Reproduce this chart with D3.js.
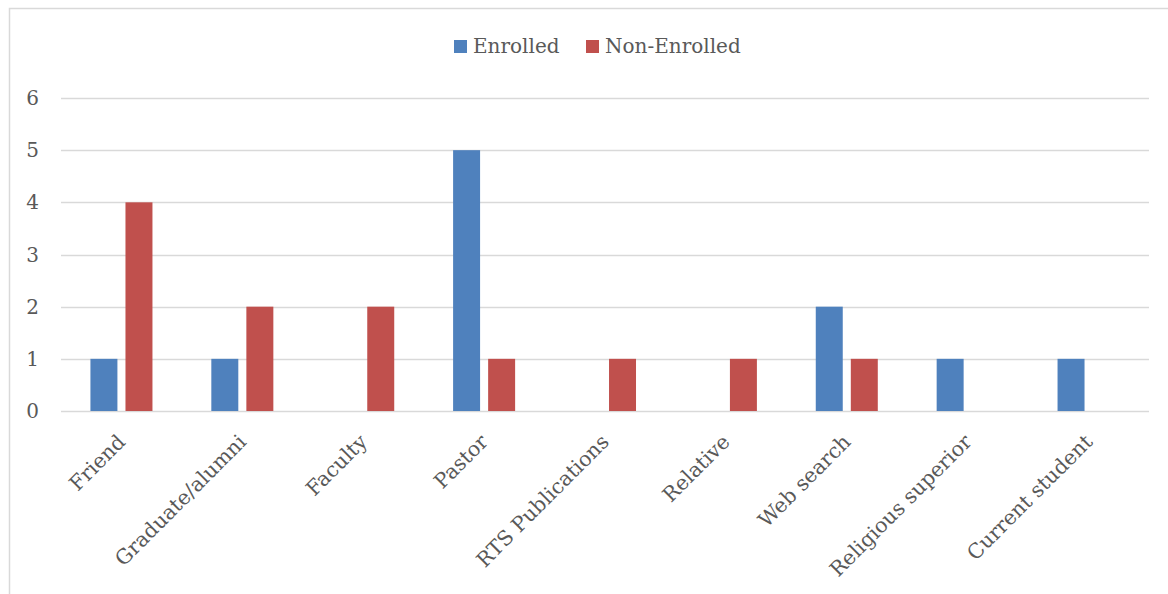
<!DOCTYPE html>
<html>
<head>
<meta charset="utf-8">
<script src="https://cdn.jsdelivr.net/npm/d3@7"></script>
<style>
  body { margin: 0; background: #fff; }
  text { font-family: "DejaVu Serif", serif; fill: #595959; }
</style>
</head>
<body>
<div id="chart"></div>
<script>
var categories = ["Friend", "Graduate/alumni", "Faculty", "Pastor", "RTS Publications", "Relative", "Web search", "Religious superior", "Current student"];
var seriesNames = ["Enrolled", "Non-Enrolled"];
var enrolled = [1, 1, 0, 5, 0, 0, 2, 1, 1];
var nonEnrolled = [4, 2, 2, 1, 1, 1, 1, 0, 0];
var yTicks = [0, 1, 2, 3, 4, 5, 6];
var colors = ["#4F81BD", "#C0504D"];

var W = 1168, H = 594;
var margin = {top: 98, right: 19, bottom: 183, left: 61},
    width = W - margin.left - margin.right,
    height = H - margin.top - margin.bottom;

var svg = d3.select("#chart").append("svg")
    .attr("width", W)
    .attr("height", H);

// chart frame
svg.append("rect")
  .attr("x", 9.5).attr("y", 8.5)
  .attr("width", 1200).attr("height", 700)
  .attr("fill", "none")
  .attr("stroke", "#D9D9D9")
  .attr("stroke-width", 1.5);

var g = svg.append("g")
  .attr("transform", "translate(" + margin.left + "," + margin.top + ")");

var x0 = d3.scaleBand().domain(categories).range([0, width]).padding(0);
var x1 = d3.scaleBand().domain(seriesNames).range([0, x0.bandwidth()])
  .paddingInner(0.23).paddingOuter(0.84);
var y = d3.scaleLinear().domain([0, 6]).range([height, 0]);

// gridlines
g.selectAll(".grid").data(yTicks).enter().append("line")
  .attr("x1", 0).attr("x2", width)
  .attr("y1", function(d) { return Math.round(y(d)) + 0.5; })
  .attr("y2", function(d) { return Math.round(y(d)) + 0.5; })
  .attr("stroke", "#D9D9D9")
  .attr("stroke-width", 1.5);

// y labels
g.selectAll(".ylab").data(yTicks).enter().append("text")
  .attr("x", -22)
  .attr("y", function(d) { return y(d); })
  .attr("dy", "0.35em")
  .attr("text-anchor", "end")
  .style("font-size", "20px")
  .text(function(d) { return d; });

// bars
var rows = categories.map(function(c, i) {
  return {cat: c, vals: [{s: seriesNames[0], v: enrolled[i]}, {s: seriesNames[1], v: nonEnrolled[i]}]};
});

var groups = g.selectAll(".cat").data(rows).enter().append("g")
  .attr("transform", function(d) { return "translate(" + x0(d.cat) + ",0)"; });

groups.selectAll("rect").data(function(d) { return d.vals; }).enter().append("rect")
  .attr("x", function(d) { return x1(d.s); })
  .attr("width", x1.bandwidth())
  .attr("y", function(d) { return y(d.v); })
  .attr("height", function(d) { return y(0) - y(d.v); })
  .attr("fill", function(d, i) { return colors[i]; });

// x labels
g.selectAll(".xlab").data(categories).enter().append("text")
  .attr("transform", function(d) {
    return "translate(" + (x0(d) + x0.bandwidth() / 2 - 5) + "," + (height + 22) + ") rotate(-45)";
  })
  .attr("text-anchor", "end")
  .attr("dy", "0.7em")
  .style("font-size", "20.5px")
  .text(function(d) { return d; });

// legend
var legend = svg.append("g").attr("transform", "translate(454,40)");
var legX = [0, 132];
seriesNames.forEach(function(s, i) {
  legend.append("rect")
    .attr("x", legX[i]).attr("y", 0)
    .attr("width", 13).attr("height", 13)
    .attr("fill", colors[i]);
  legend.append("text")
    .attr("x", legX[i] + 19).attr("y", 13)
    .style("font-size", "20px")
    .text(s);
});
</script>
</body>
</html>
